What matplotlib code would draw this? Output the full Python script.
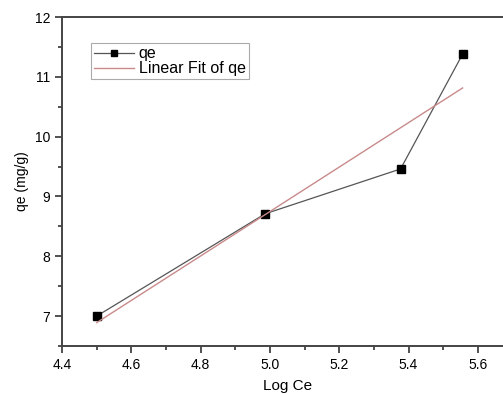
import numpy as np
import matplotlib.pyplot as plt
from matplotlib.ticker import MultipleLocator

log_ce = [4.50, 4.986, 5.377, 5.556]
qe = [7.00, 8.71, 9.46, 11.38]

plt.rcParams['font.family'] = ['Liberation Sans', 'DejaVu Sans']

# linear fit of qe vs Log Ce
slope, icpt = np.polyfit(log_ce, qe, 1)
fit_x = np.array([min(log_ce), max(log_ce)])
fit_y = slope * fit_x + icpt

fig = plt.figure(figsize=(5.03, 3.94), dpi=100)
ax = fig.add_axes([0.1233, 0.1218, 0.8956, 0.835])

ax.plot(log_ce, qe, color='#555555', lw=0.9, marker='s', ms=5.5,
        mfc='black', mec='black', label='qe')
ax.plot(fit_x, fit_y, color='#c88a8a', lw=1.0, label='Linear Fit of qe')

ax.set_xlim(4.4, 5.7)
ax.set_ylim(6.5, 12)
ax.xaxis.set_major_locator(MultipleLocator(0.2))
ax.xaxis.set_minor_locator(MultipleLocator(0.1))
ax.yaxis.set_major_locator(MultipleLocator(1))
ax.yaxis.set_minor_locator(MultipleLocator(0.5))
ax.tick_params(which='both', direction='out', labelsize=10, width=1.2, color='#333333')
ax.tick_params(which='major', length=5)
ax.tick_params(which='minor', length=3)
for s in ax.spines.values():
    s.set_linewidth(1.4)
    s.set_color('#444444')

ax.set_xlabel('Log Ce', fontsize=11, labelpad=5)
ax.set_ylabel('qe (mg/g)', fontsize=10, labelpad=4)

leg = ax.legend(loc='upper left', bbox_to_anchor=(0.064, 0.921), borderaxespad=0,
                fontsize=11.5, handlelength=2.5, fancybox=False, framealpha=1,
                edgecolor='#aaaaaa', borderpad=0.2, labelspacing=0.0, handletextpad=0.3,
                markerscale=0.8)
leg.get_frame().set_linewidth(0.8)

fig.savefig('out.png', dpi=100)
